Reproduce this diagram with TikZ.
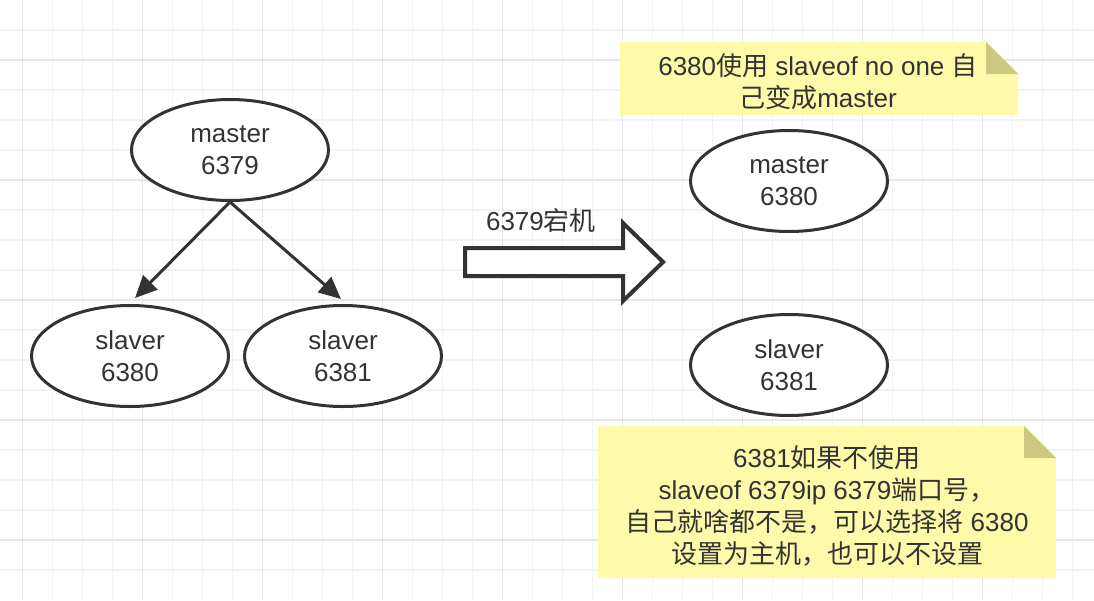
\documentclass[tikz,border=0pt]{standalone}
\usepackage{fontspec}
\setmainfont{Liberation Sans}
\newfontfamily\cjk{Noto Sans CJK SC}
\usetikzlibrary{arrows.meta,shapes.geometric}
\definecolor{ink}{HTML}{333333}
\definecolor{gridminor}{HTML}{F2F2F2}
\definecolor{gridmajor}{HTML}{E6E6E6}
\definecolor{notefill}{HTML}{FFFAAA}
\definecolor{notefold}{HTML}{CCC880}
\tikzset{
  txt/.style={text=ink, align=center, inner sep=0pt, font=\fontsize{26}{32}\selectfont},
  ell/.style={txt, ellipse, draw=ink, line width=3pt, fill=white, minimum width=197pt, minimum height=101pt},
  edge/.style={draw=ink, line width=3pt, -{Triangle[length=22pt,width=20pt]}},
  note/.style={fill=notefill},
  fold/.style={fill=notefold},
}
\begin{document}
\begin{tikzpicture}[x=1pt,y=-1pt]
\useasboundingbox (0,0) rectangle (1094,600);
\fill[white] (0,0) rectangle (1094,600);
% grid
\foreach \i in {0,...,36} \draw[gridminor, line width=1.5pt] ({22.7+30*\i},0) -- ++(0,600);
\foreach \j in {1,...,19} \draw[gridminor, line width=1.5pt] (0,{30*\j}) -- ++(1094,0);
\foreach \i in {0,...,8} \draw[gridmajor, line width=1.5pt] ({22.7+120*\i},0) -- ++(0,600);
\foreach \j in {0,...,4} \draw[gridmajor, line width=1.5pt] (0,{60+120*\j}) -- ++(1094,0);

% left tree
\node[ell] (m) at (230,150) {master\\6379};
\node[ell] (s1) at (130,356) {slaver\\6380};
\node[ell] (s2) at (343,356) {slaver\\6381};
\coordinate (t1) at (135,298);
\coordinate (t2) at (341,299);
\draw[edge] (m.south) -- (t1);
\draw[edge] (m.south) -- (t2);

% block arrow
\draw[ink, line width=4pt, fill=white, line join=miter]
  (465,248) -- (623,248) -- (623,223) -- (663,262) -- (623,301) -- (623,276) -- (465,276) -- cycle;
\node[txt] (lbl) at (541,221) {6379{\cjk 宕机}};

% right side
\node[ell] (m2) at (789,181) {master\\6380};
\node[ell] (s3) at (789,365) {slaver\\6381};

% note 1
\fill[note] (620,42) -- (986,42) -- (1018,74) -- (1018,115) -- (620,115) -- cycle;
\fill[fold] (986,42) -- (986,74) -- (1018,74) -- cycle;
\node[txt] (n1) at (818,82) {6380{\cjk 使用} slaveof no one {\cjk 自}\\{\cjk 己变成}master};

% note 2
\fill[note] (598,426) -- (1024,426) -- (1056,458) -- (1056,578) -- (598,578) -- cycle;
\fill[fold] (1024,426) -- (1024,458) -- (1056,458) -- cycle;
\node[txt] (n2) at (827,506) {6381{\cjk 如果不使用}\\slaveof 6379ip 6379{\cjk 端口号，}\\{\cjk 自己就啥都不是，可以选择将} 6380\\{\cjk 设置为主机，也可以不设置}};
\end{tikzpicture}
\end{document}
